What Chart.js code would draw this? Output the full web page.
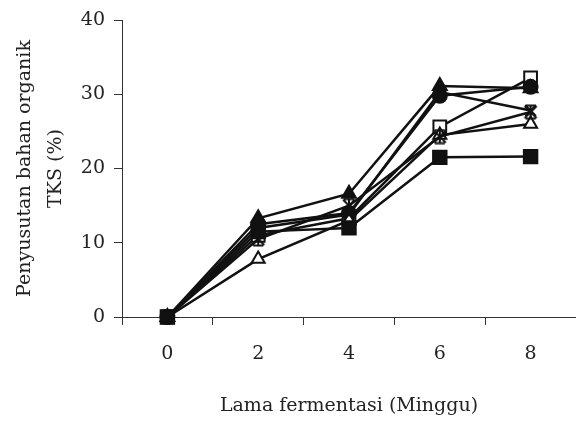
<!DOCTYPE html>
<html>
<head>
<meta charset="utf-8">
<script src="https://cdn.jsdelivr.net/npm/chart.js@4"></script>
<style>
html,body{margin:0;padding:0;background:#fff;overflow:hidden;}
#wrap{width:576px;height:421px;position:relative;}
canvas{display:block;}
</style>
</head>
<body>
<div id="wrap"><canvas id="c" width="576" height="421"></canvas></div>
<script>
const categories = ['0', '2', '4', '6', '8'];
const seriesFilledSquare   = [0, 11.5, 12.0, 21.5, 21.6];
const seriesCross          = [0, 12.0, 13.8, 30.3, 27.8];
const seriesFilledTriangle = [0, 13.3, 16.6, 31.1, 30.8];
const seriesStar           = [0, 10.5, 15.0, 24.3, 27.6];
const seriesOpenTriangle   = [0, 7.8, 13.0, 24.5, 26.0];
const seriesFilledCircle   = [0, 12.5, 14.0, 29.8, 31.0];
const seriesOpenSquare     = [0, 11.0, 13.3, 25.6, 32.2];
const yTicks = [0, 10, 20, 30, 40];

function starMarker() {
  const s = 16, c = document.createElement('canvas');
  c.width = s; c.height = s;
  const g = c.getContext('2d');
  g.strokeStyle = '#111'; g.lineWidth = 2;
  g.beginPath();
  g.moveTo(2, 2); g.lineTo(14, 14);
  g.moveTo(14, 2); g.lineTo(2, 14);
  g.moveTo(8, 1); g.lineTo(8, 15);
  g.moveTo(3, 1.5); g.lineTo(13, 1.5);
  g.moveTo(3, 14.5); g.lineTo(13, 14.5);
  g.stroke();
  return c;
}

const FONT = 'DejaVu Serif';
function ds(label, data, style, filled, radius) {
  return {
    label, data,
    borderColor: '#111', borderWidth: 2.5,
    pointStyle: style,
    pointRadius: radius,
    pointBorderColor: '#111',
    pointBorderWidth: 2,
    pointBackgroundColor: filled ? '#111' : '#ffffff',
    tension: 0, fill: false, clip: false
  };
}

new Chart(document.getElementById('c'), {
  type: 'line',
  data: {
    labels: categories,
    datasets: [
      ds('A', seriesFilledSquare, 'rect', true, 9.5),
      ds('D', seriesStar, starMarker(), false, 8),
      ds('B', seriesCross, 'crossRot', false, 7.5),
      ds('C', seriesFilledTriangle, 'triangle', true, 8),
      ds('E', seriesOpenTriangle, 'triangle', false, 7.5),
      ds('F', seriesFilledCircle, 'circle', true, 7),
      ds('G', seriesOpenSquare, 'rect', false, 9)
    ]
  },
  options: {
    responsive: false,
    animation: false,
    devicePixelRatio: 1,
    layout: { autoPadding: false, padding: { top: 20, right: 0, left: 0, bottom: 0 } },
    plugins: { legend: { display: false }, tooltip: { enabled: false } },
    scales: {
      x: {
        type: 'category',
        offset: true,
        grid: { display: true, drawOnChartArea: false, drawTicks: true, tickLength: 8, color: '#333', offset: true },
        border: { display: true, color: '#333', width: 1 },
        ticks: { color: '#222', font: { family: FONT, size: 19 }, padding: 18 },
        title: { display: true, text: 'Lama fermentasi (Minggu)', color: '#222', font: { family: FONT, size: 19 }, padding: { top: 0, bottom: 4 } },
        afterFit: (s) => { s.height = 104; s.paddingRight = 0; s.paddingLeft = 0; }
      },
      y: {
        min: 0, max: 40,
        afterBuildTicks: (s) => { s.ticks = yTicks.map(v => ({ value: v })); },
        grid: { display: true, drawOnChartArea: false, drawTicks: true, tickLength: 8, color: '#333' },
        border: { display: true, color: '#333', width: 1 },
        ticks: { color: '#222', font: { family: FONT, size: 19 }, padding: 9 },
        title: { display: true, text: ['Penyusutan bahan organik', 'TKS (%)'], color: '#222', font: { family: FONT, size: 19, lineHeight: 1.6 }, padding: { top: 10, bottom: 0 } },
        afterFit: (s) => { s.width = 122; s.paddingTop = 0; s.paddingBottom = 0; }
      }
    }
  }
});
</script>
</body>
</html>
